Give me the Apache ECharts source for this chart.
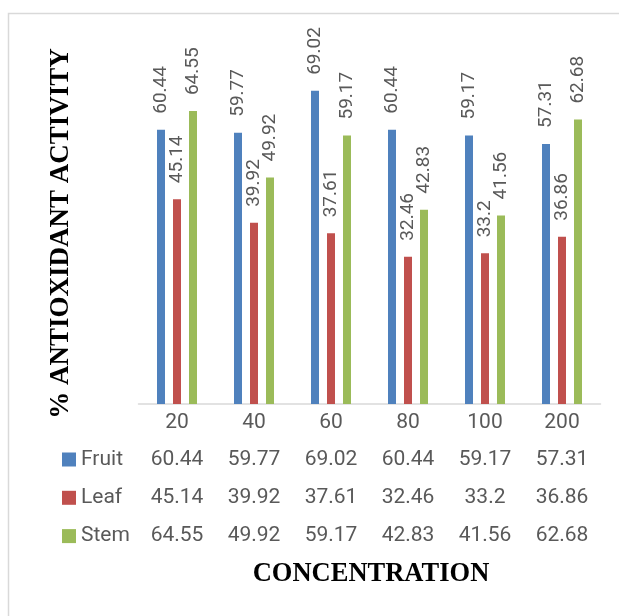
<!DOCTYPE html>
<html>
<head>
<meta charset="utf-8">
<script src="https://cdn.jsdelivr.net/npm/echarts@6/dist/echarts.min.js"></script>
<style>
  html, body { margin: 0; padding: 0; background: #fff; }
  #chart { width: 619px; height: 616px; }
</style>
</head>
<body>
<div id="chart"></div>
<script>
// Concentrations tested
const categories = ['20', '40', '60', '80', '100', '200'];
// % antioxidant activity per plant part
const fruit = [60.44, 59.77, 69.02, 60.44, 59.17, 57.31];
const leaf = [45.14, 39.92, 37.61, 32.46, 33.2, 36.86];
const stem = [64.55, 49.92, 59.17, 42.83, 41.56, 62.68];

const seriesNames = ['Fruit', 'Leaf', 'Stem'];
const seriesData = [fruit, leaf, stem];
const colors = ['#4F81BD', '#C0504D', '#9BBB59'];

const textGray = '#595959';
const sans = 'Roboto, "Noto Sans", sans-serif';
const serif = '"Liberation Serif", "DejaVu Serif", serif';

const chart = echarts.init(document.getElementById('chart'), null, { renderer: 'canvas' });

// Data-table rows under the category axis, one label-only axis per series
const tableAxes = seriesData.map((vals, i) => ({
  type: 'category',
  gridIndex: 0,
  position: 'bottom',
  offset: 37 + i * 38.3,
  data: vals.map(v => String(v)),
  axisLine: { show: false },
  axisTick: { show: false },
  splitLine: { show: false },
  axisLabel: { color: textGray, fontSize: 21, fontFamily: sans, margin: 8, interval: 0 }
}));

const option = {
  backgroundColor: '#ffffff',
  animation: false,
  color: colors,
  grid: { left: 138.5, top: 41, width: 462, height: 363, containLabel: false },
  legend: {
    data: seriesNames,
    orient: 'vertical',
    left: 62,
    top: 447.5,
    padding: 0,
    itemWidth: 14,
    itemHeight: 14,
    itemGap: 14.3,
    icon: 'rect',
    textStyle: { color: textGray, fontSize: 21, fontFamily: sans, lineHeight: 24 }
  },
  xAxis: [{
    type: 'category',
    data: categories,
    axisLine: { show: true, lineStyle: { color: '#D9D9D9', width: 1.5 } },
    axisTick: { show: false },
    splitLine: { show: false },
    axisLabel: { color: textGray, fontSize: 21, fontFamily: sans, margin: 8, interval: 0 }
  }].concat(tableAxes),
  yAxis: {
    type: 'value',
    min: 0,
    max: 80,
    show: false
  },
  graphic: [
    {
      type: 'rect',
      shape: { x: 8.5, y: 13.5, width: 800, height: 800 },
      style: { fill: 'none', stroke: '#D9D9D9', lineWidth: 1.5 },
      silent: true,
      z: -10
    },
    {
      type: 'text',
      x: 61.5,
      y: 233.5,
      rotation: Math.PI / 2,
      style: {
        text: '% ANTIOXIDANT ACTIVITY',
        font: 'bold 27px ' + serif,
        fill: '#000000',
        textAlign: 'center',
        textVerticalAlign: 'middle'
      }
    },
    {
      type: 'text',
      x: 371,
      y: 574,
      style: {
        text: 'CONCENTRATION',
        font: 'bold 26.5px ' + serif,
        fill: '#000000',
        textAlign: 'center',
        textVerticalAlign: 'middle'
      }
    }
  ],
  series: seriesData.map((vals, i) => ({
    name: seriesNames[i],
    type: 'bar',
    xAxisIndex: 0,
    data: vals,
    barWidth: 8,
    barGap: '100%',
    itemStyle: { color: colors[i] },
    label: {
      show: true,
      position: 'top',
      rotate: 90,
      align: 'left',
      verticalAlign: 'middle',
      distance: 16,
      color: textGray,
      fontSize: 19,
      fontFamily: sans
    }
  }))
};

chart.setOption(option);
</script>
</body>
</html>
